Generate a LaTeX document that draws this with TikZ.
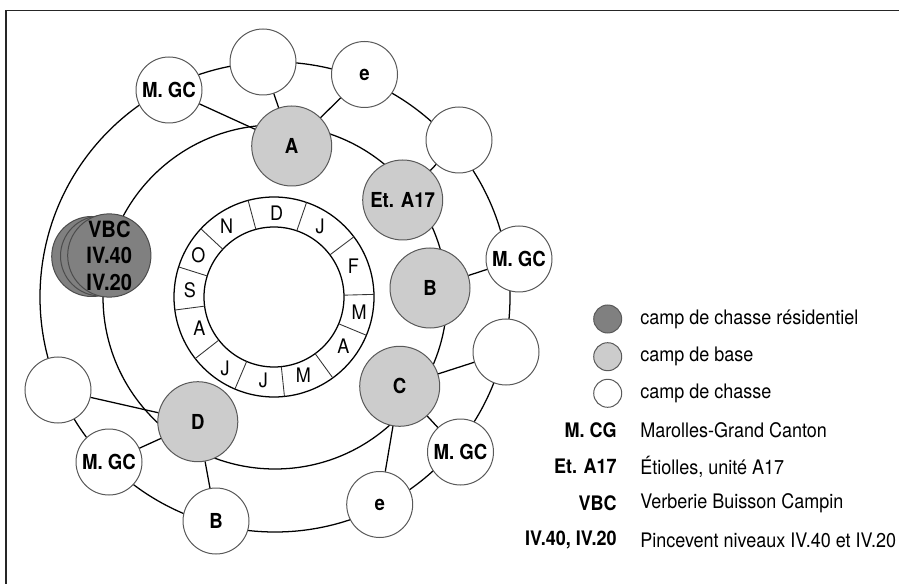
\documentclass[tikz,border=0pt]{standalone}
\usepackage{fontspec}
\setmainfont{TeX Gyre Heros}[FakeStretch=0.9]
\begin{document}
\begin{tikzpicture}[x=0.75pt,y=-0.75pt,
  ln/.style={line width=0.95pt, black},
  whitecamp/.style={circle, draw=black!65, fill=white, line width=0.75pt, minimum size=49.5pt, inner sep=0pt, font=\bfseries\fontsize{15.5}{18}\selectfont},
  basecamp/.style={whitecamp, fill=black!20, minimum size=60pt},
  rescamp/.style={whitecamp, fill=black!50, minimum size=60pt},
  month/.style={font=\fontsize{15}{17}\selectfont, inner sep=0pt},
  legcirc/.style={circle, draw=black!65, line width=0.75pt, minimum size=21pt, inner sep=0pt},
  legkey/.style={anchor=east, inner sep=0pt, font=\bfseries\fontsize{15}{17}\selectfont},
  legtext/.style={anchor=west, inner sep=0pt, font=\fontsize{15}{17}\selectfont}]
\useasboundingbox (0,0) rectangle (899,584);
% frame
\draw[line width=1.1pt, black!85] (6,584) -- (6,10.5) -- (899,10.5);
% orbits
\coordinate (ctr) at (275,297);
\draw[ln] (ctr) circle[radius=235];
\draw[ln] (ctr) circle[radius=172];
% month ring
\coordinate (mc) at (274,297);
\draw[ln, fill=white] (mc) circle[radius=100];
\draw[ln] (mc) circle[radius=70];
\foreach \a in {105,71,37,1.5,-22.5,-54,-84,-113,-142,-172.5,162.5,137}
  \draw[line width=0.65pt, black!80] ([shift={(mc)}]{-\a}:70) -- ([shift={(mc)}]{-\a}:100);
\node[month] (mD)  at (276.7,213.3) {D};
\node[month] (mJ1) at (320,226.7) {J};
\node[month] (mF)  at (353.3,266.7) {F};
\node[month] (mM1) at (359,312.7) {M};
\node[month] (mA1) at (343.3,346.7) {A};
\node[month] (mM2) at (303.3,375) {M};
\node[month] (mJ2) at (263.3,380) {J};
\node[month] (mJ3) at (225,368.3) {J};
\node[month] (mA2) at (199.3,328.3) {A};
\node[month] (mS)  at (190,290) {S};
\node[month] (mO)  at (198.3,255) {O};
\node[month] (mN)  at (226.7,226) {N};
% hunting camps
\node[whitecamp] (w1)  at (169,90) {M. GC};
\node[whitecamp] (w2)  at (263,62) {};
\node[whitecamp] (w3)  at (364.5,74.5) {e};
\node[whitecamp] (w4)  at (459,140) {};
\node[whitecamp] (w5)  at (519,259) {M. GC};
\node[whitecamp] (w6)  at (506,352) {};
\node[whitecamp] (w7)  at (460.5,452) {M. GC};
\node[whitecamp] (w8)  at (379.7,504.5) {e};
\node[whitecamp] (w9)  at (216,521) {B};
\node[whitecamp] (w10) at (109,462) {M. GC};
\node[whitecamp] (w11) at (58,390) {};
% base camps
\node[basecamp] (gA) at (291.7,146) {A};
\node[basecamp] (gE) at (402.7,200) {Et. A17};
\node[basecamp] (gB) at (430,288) {B};
\node[basecamp] (gC) at (399.7,386.3) {C};
\node[basecamp] (gD) at (197.8,421.7) {D};
% residential camp (stack)
\node[rescamp, draw=black!70] (v3) at (91.7,256.5) {};
\node[rescamp, draw=black!70] (v2) at (100.5,256) {};
\node[rescamp, draw=black!70, align=center, font=\bfseries\fontsize{16.8}{19.8}\selectfont] (v1) at (109.3,255.5) {VBC\\IV.40\\IV.20};
% spokes
\draw[ln] (w1) -- (gA);
\draw[ln] (w2) -- (gA);
\draw[ln] (w3) -- (gA);
\draw[ln] (w4) -- (gE);
\draw[ln] (w5) -- (gB);
\draw[ln] (w6) -- (gC);
\draw[ln] (w7) -- (gC);
\draw[ln] (w8) -- (gC);
\draw[ln] (gD) -- (w11);
\draw[ln] (gD) -- (w10);
\draw[ln] (gD) -- (w9);
% legend
\node[legcirc, fill=black!50] (l1) at (607.7,319) {};
\node[legcirc, fill=black!20] (l2) at (607.7,356.7) {};
\node[legcirc, fill=white] (l3) at (607.7,393.3) {};
\node[legtext] (t1) at (640,319) {camp de chasse résidentiel};
\node[legtext] (t2) at (640,356.7) {camp de base};
\node[legtext] (t3) at (640,393.3) {camp de chasse};
\node[legkey] (k1) at (617,430) {M. CG};
\node[legkey] (k2) at (617,466.7) {Et. A17};
\node[legkey] (k3) at (617,503.3) {VBC};
\node[legkey] (k4) at (617,540) {IV.40, IV.20};
\node[legtext] (d1) at (640,430) {Marolles-Grand Canton};
\node[legtext] (d2) at (640,466.7) {Étiolles, unité A17};
\node[legtext] (d3) at (640,503.3) {Verberie Buisson Campin};
\node[legtext] (d4) at (640,540) {Pincevent niveaux IV.40 et IV.20};
\end{tikzpicture}
\end{document}
